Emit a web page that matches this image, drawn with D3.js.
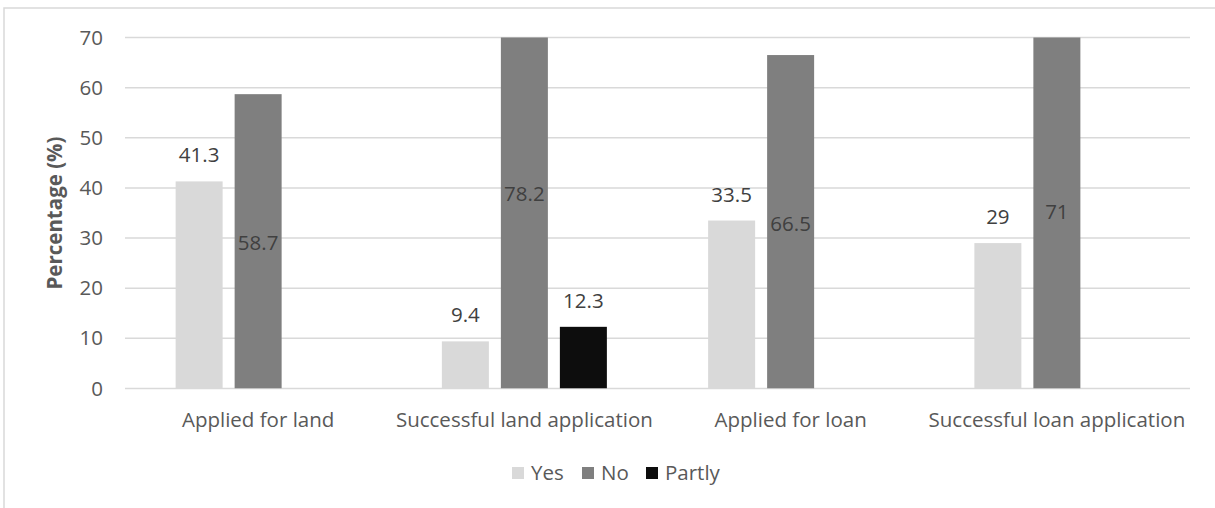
<!DOCTYPE html>
<html><head><meta charset="utf-8">
<script src="https://cdn.jsdelivr.net/npm/d3@7"></script>
<style>body{margin:0;background:#fff}svg{display:block}text{font-family:"Open Sans",sans-serif}</style>
</head><body><svg id="c" width="1215" height="508"></svg>
<script>
const categories = ["Applied for land","Successful land application","Applied for loan","Successful loan application"];
const seriesNames = ["Yes","No","Partly"];
const yesValues = [41.3, 9.4, 33.5, 29];
const noValues = [58.7, 78.2, 66.5, 71];
const partlyValues = [null, 12.3, null, null];
const yTicks = [0,10,20,30,40,50,60,70];
const colors = ["#d9d9d9","#7f7f7f","#0d0d0d"];

const svg = d3.select("#c");
const fs = 20.5;
svg.append("rect").attr("x",4).attr("y",8).attr("width",1230).attr("height",540)
  .attr("fill","none").attr("stroke","#d9d9d9").attr("stroke-width",1.5);

const pL=125, pR=1190, pT=37.5, pB=388.5;
const x = d3.scaleBand().domain(categories).range([pL,pR]);
const y = d3.scaleLinear().domain([0,70]).range([pB,pT]);
const barW = 47, gap = 12;

// gridlines
svg.append("g").selectAll("line").data(yTicks).join("line")
  .attr("x1",pL).attr("x2",pR).attr("y1",d=>y(d)).attr("y2",d=>y(d))
  .attr("stroke","#d9d9d9").attr("stroke-width",1.5);

// y axis labels
const yAxis = d3.axisLeft(y).tickValues(yTicks).tickSize(0).tickPadding(0);
const ga = svg.append("g").attr("transform",`translate(103,0)`).call(yAxis);
ga.select(".domain").remove();
ga.selectAll("text").attr("font-size",fs).attr("fill","#595959").attr("font-family","Open Sans");

// x axis labels
const xAxis = d3.axisBottom(x).tickSize(0).tickPadding(0);
const gx = svg.append("g").attr("transform",`translate(0,${pB+24})`).call(xAxis);
gx.select(".domain").remove();
gx.selectAll("text").attr("font-size",fs).attr("fill","#595959").attr("font-family","Open Sans");

svg.append("defs").append("clipPath").attr("id","clip").append("rect")
  .attr("x",pL).attr("y",pT).attr("width",pR-pL).attr("height",pB-pT);

const seriesVals = [yesValues, noValues, partlyValues];
const data = [];
seriesVals.forEach((vals,si)=>vals.forEach((v,ci)=>{ if(v!=null) data.push({si,ci,v}); }));
const bx = d => x(categories[d.ci]) + x.bandwidth()/2 - (3*barW+2*gap)/2 + d.si*(barW+gap);

svg.append("g").attr("clip-path","url(#clip)").selectAll("rect").data(data).join("rect")
  .attr("x",bx).attr("width",barW)
  .attr("y",d=>y(d.v)).attr("height",d=>pB-y(d.v))
  .attr("fill",d=>colors[d.si]);

// labels
svg.append("g").selectAll("text").data(data).join("text")
  .attr("x",d=>bx(d)+barW/2)
  .attr("y",d=> d.si===1 ? y(d.v/2)+9 : y(d.v)-19)
  .attr("text-anchor","middle").attr("font-size",fs)
  .attr("fill","#404040").text(d=>d.v);

// axis title
svg.append("text").attr("transform",`translate(62,${(pT+pB)/2}) rotate(-90)`)
  .attr("text-anchor","middle").attr("font-size",fs).attr("font-weight","bold")
  .attr("fill","#595959").text("Percentage (%)");

// legend
const legX = [512, 582, 646];
const lg = svg.append("g").selectAll("g").data(seriesNames).join("g")
  .attr("transform",(d,i)=>`translate(${legX[i]},467)`);
lg.append("rect").attr("width",12).attr("height",12).attr("fill",(d,i)=>colors[i]);
lg.append("text").attr("x",19).attr("y",13).attr("font-size",fs).attr("fill","#595959").text(d=>d);
</script></body></html>
